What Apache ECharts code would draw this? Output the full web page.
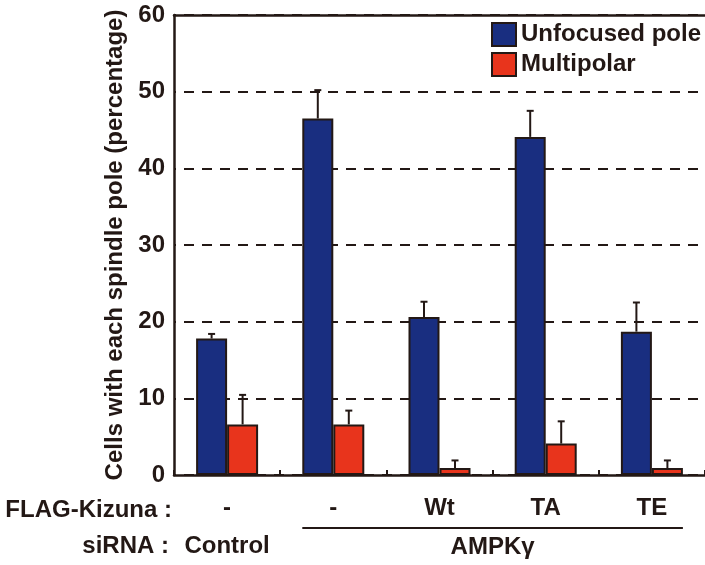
<!DOCTYPE html>
<html>
<head>
<meta charset="utf-8">
<script src="https://cdn.jsdelivr.net/npm/echarts@6/dist/echarts.min.js"></script>
<style>
html,body{margin:0;padding:0;background:#fff;}
#chart{width:705px;height:565px;}
</style>
</head>
<body>
<div id="chart"></div>
<script>
// ---- data ----
const categories = ['-', '-', 'Wt', 'TA', 'TE'];
const siRNAGroups = ['Control', 'AMPK\u03b3'];
const seriesNames = ['Unfocused pole', 'Multipolar'];
const unfocused = [17.8, 46.5, 20.6, 44.1, 18.7];
const unfocusedErr = [0.6, 3.7, 2.0, 3.4, 3.8];
const multipolar = [6.6, 6.6, 0.9, 4.1, 0.9];
const multipolarErr = [3.85, 1.8, 1.0, 2.9, 1.0];
const yTicks = [0, 10, 20, 30, 40, 50, 60];

const INK = '#231815';
const BLUE = '#192e80';
const RED = '#e8341c';
const FONT = '"Liberation Sans", Arial, Helvetica, sans-serif';
const BAR_W = 31;

const chart = echarts.init(document.getElementById('chart'), null, {renderer: 'canvas'});

function errSeries(values, errs, sign, seriesIndex) {
  return {
    type: 'custom',
    name: seriesNames[seriesIndex] + ' err',
    z: 5,
    silent: true,
    data: values.map((v, i) => [i, v, errs[i]]),
    renderItem: function (params, api) {
      const i = api.value(0), v = api.value(1), e = api.value(2);
      const base = api.coord([i, v]);
      const top = api.coord([i, v + e]);
      const x = base[0] + sign * BAR_W / 2;
      return {
        type: 'group',
        children: [
          {type: 'line', shape: {x1: x, y1: base[1], x2: x, y2: top[1]},
           style: {stroke: INK, lineWidth: 2}},
          {type: 'line', shape: {x1: x - 3.5, y1: top[1], x2: x + 3.5, y2: top[1]},
           style: {stroke: INK, lineWidth: 2}}
        ]
      };
    }
  };
}

const option = {
  backgroundColor: '#fff',
  animation: false,
  textStyle: {fontFamily: FONT},
  grid: {left: 174, top: 15, width: 534.5, height: 460, containLabel: false},
  legend: {
    orient: 'vertical',
    left: 491, top: 22,
    padding: 0,
    itemWidth: 24, itemHeight: 23, itemGap: 5,
    icon: 'rect',
    data: seriesNames,
    textStyle: {fontFamily: FONT, fontSize: 24, fontWeight: 'bold', color: INK, padding: [0, 0, 0, 0]},
    itemStyle: {borderColor: INK, borderWidth: 2}
  },
  xAxis: [{
    type: 'category',
    data: categories,
    position: 'bottom',
    axisLine: {lineStyle: {color: INK, width: 2.5}},
    axisTick: {show: true, inside: true, length: 5, lineStyle: {color: INK, width: 2}},
    axisLabel: {color: INK, fontFamily: FONT, fontSize: 24, fontWeight: 'bold', margin: 21, interval: 0},
    splitLine: {show: false}
  }, {
    type: 'category',
    data: categories,
    position: 'top',
    z: 10,
    axisLine: {lineStyle: {color: INK, width: 2.5}},
    axisTick: {show: false},
    axisLabel: {show: false}
  }],
  yAxis: {
    type: 'value',
    min: yTicks[0], max: yTicks[yTicks.length - 1], interval: 10,
    name: 'Cells with each spindle pole (percentage)',
    nameLocation: 'middle',
    nameGap: 46,
    nameRotate: 90,
    nameTextStyle: {color: INK, fontFamily: FONT, fontSize: 24, fontWeight: 'bold'},
    axisLine: {show: true, lineStyle: {color: INK, width: 2.5}},
    axisTick: {show: false},
    axisLabel: {color: INK, fontFamily: FONT, fontSize: 24, fontWeight: 'bold', margin: 9},
    splitLine: {show: true, lineStyle: {color: INK, width: 2, type: [10, 8], dashOffset: 8}}
  },
  series: [{
    name: seriesNames[0],
    type: 'bar',
    data: unfocused,
    barWidth: BAR_W,
    barGap: '0%',
    itemStyle: {color: BLUE, borderColor: INK, borderWidth: 2}
  }, {
    name: seriesNames[1],
    type: 'bar',
    data: multipolar,
    barWidth: BAR_W,
    barGap: '0%',
    itemStyle: {color: RED, borderColor: INK, borderWidth: 2}
  },
    errSeries(unfocused, unfocusedErr, -1, 0),
    errSeries(multipolar, multipolarErr, 1, 1)
  ]
};

chart.setOption(option);

// annotation rows below the axis, placed from the category scale
const cx = i => chart.convertToPixel({xAxisIndex: 0}, i);
const ampkFirst = 1, ampkLast = categories.length - 1;
const lineX1 = cx(ampkFirst) - BAR_W;
const lineX2 = cx(ampkLast) + BAR_W;
const txt = (text, x, y, align) => ({
  type: 'text', x: x, y: y, z: 20,
  style: {text: text, fill: INK, font: 'bold 24px ' + FONT, align: align, verticalAlign: 'middle'}
});
chart.setOption({
  graphic: [
    txt('FLAG-Kizuna :', 172, 510, 'right'),
    txt('siRNA :', 169, 546, 'right'),
    txt(siRNAGroups[0], cx(0), 546, 'center'),
    txt(siRNAGroups[1], (lineX1 + lineX2) / 2, 547, 'center'),
    {type: 'line', z: 20, shape: {x1: lineX1, y1: 528, x2: lineX2, y2: 528},
     style: {stroke: INK, lineWidth: 2}}
  ]
});
</script>
</body>
</html>
